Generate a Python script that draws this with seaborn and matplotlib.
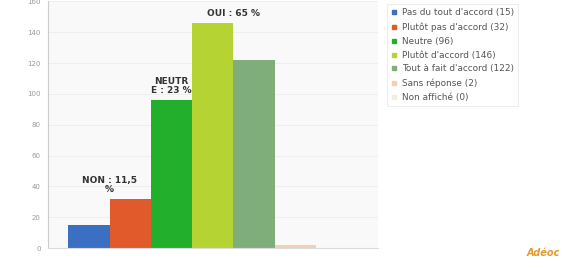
import matplotlib
matplotlib.use('Agg')
import matplotlib.pyplot as plt
from matplotlib.lines import Line2D
import seaborn as sns
import pandas as pd

# données
categories = ["Pas du tout d'accord", "Plutôt pas d'accord", "Neutre", "Plutôt d'accord",
              "Tout à fait d'accord", "Sans réponse", "Non affiché"]
valeurs = [15, 32, 96, 146, 122, 2, 0]
couleurs = ["#3b6fc1", "#e05a2b", "#22b02c", "#b6d334", "#80ae7b", "#f2cfb6", "#f3ece0"]
annotations = ["NON : 11,5\n%", "NEUTR\nE : 23 %", "OUI : 65 %"]
annot_x = [0.5, 2.0, 3.5]
annot_y = [32, 96, 146]
yticks = [0, 20, 40, 60, 80, 100, 120, 140, 160]

df = pd.DataFrame({'cat': categories, 'val': valeurs})

sns.set_style('white')
plt.rcParams['font.family'] = ['DejaVu Sans']

fig = plt.figure(figsize=(5.76, 2.69), dpi=100)
ax = fig.add_axes([0.083, 0.078, 0.573, 0.917])
ax.set_facecolor('#f9f9f9')

sns.barplot(data=df, x='cat', y='val', hue='cat', palette=couleurs, width=1.0,
            dodge=False, legend=False, saturation=1, linewidth=0, ax=ax)

ax.set_xlim(-1, 7)
ax.set_ylim(0, 160)
ax.set_yticks(yticks)
ax.set_yticklabels([str(t) for t in yticks], fontsize=5, color='#999999')
ax.set_xticks([])
ax.set_xlabel('')
ax.set_ylabel('')
ax.yaxis.grid(True, color='#ececec', linewidth=0.6)
ax.set_axisbelow(True)
ax.tick_params(axis='y', length=3, color='#bbbbbb', pad=2)
for s in ['top', 'right']:
    ax.spines[s].set_visible(False)
ax.spines['left'].set_color('#cccccc')
ax.spines['bottom'].set_color('#dddddd')

# étiquettes au-dessus des barres
for txt, x, y in zip(annotations, annot_x, annot_y):
    ax.text(x, y + 3, txt, ha='center', va='bottom', fontsize=6.5, fontweight='bold',
            color='#333333', linespacing=1.0)

# légende
handles = [Line2D([0], [0], marker='s', linestyle='', markersize=3, color=c)
           for c in couleurs]
labels = [f"{c} ({v})" for c, v in zip(categories, valeurs)]
leg = fig.legend(handles, labels, loc='upper left', bbox_to_anchor=(0.664, 1.0),
                 fontsize=6.4, frameon=True, handletextpad=0.4, labelspacing=0.55,
                 borderpad=0.45, handlelength=0.8)
leg.get_frame().set_edgecolor('#e4e4e4')
leg.get_frame().set_linewidth(0.6)
leg.get_frame().set_boxstyle('square', pad=0)
for t in leg.get_texts():
    t.set_color('#555555')

# petit logo en bas à droite
fig.text(0.915, 0.04, 'Adéoc', fontsize=7, color='#e39a2a', fontstyle='italic',
         fontweight='bold', ha='left', va='bottom')

plt.savefig('out.png', dpi=100)
